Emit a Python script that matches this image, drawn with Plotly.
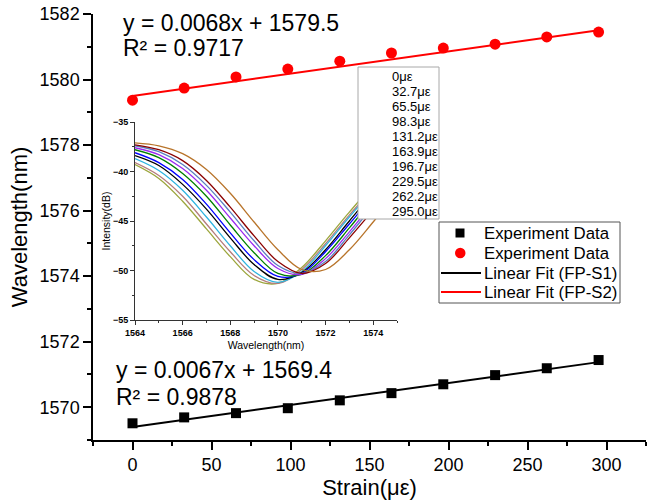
import plotly.graph_objects as go

# ---------------- data ----------------
strain = [0, 32.7, 65.5, 98.3, 131.2, 163.9, 196.7, 229.5, 262.2, 295.0]
s1_wavelength = [1569.51, 1569.69, 1569.82, 1569.97, 1570.21, 1570.43, 1570.70, 1570.98, 1571.19, 1571.44]
s2_wavelength = [1579.37, 1579.74, 1580.08, 1580.32, 1580.56, 1580.81, 1580.96, 1581.08, 1581.30, 1581.45]

fit_slopes = [0.0067, 0.0068]
fit_intercepts = [1569.4, 1579.5]
fit_eq_labels = ["y = 0.0067x + 1569.4", "y = 0.0068x + 1579.5"]
fit_r2_labels = ["R\u00b2 = 0.9878", "R\u00b2 = 0.9717"]
legend_names = ["Experiment Data", "Experiment Data", "Linear Fit (FP-S1)", "Linear Fit (FP-S2)"]

spec_wl = [1564, 1565, 1566, 1567, 1568, 1569, 1570, 1571, 1572, 1573, 1574, 1575]
spec_labels = ["0\u03bc\u03b5", "32.7\u03bc\u03b5", "65.5\u03bc\u03b5", "98.3\u03bc\u03b5", "131.2\u03bc\u03b5",
               "163.9\u03bc\u03b5", "196.7\u03bc\u03b5", "229.5\u03bc\u03b5", "262.2\u03bc\u03b5", "295.0\u03bc\u03b5"]
spec_colors = ["#9CA63C", "#B47C7C", "#2FB4E0", "#000000", "#0000FF",
               "#008000", "#9A2BF0", "#5A7FC0", "#8B0000", "#B8742A"]
spec_db = [
    [-39.3, -40.7, -43.0, -45.8, -48.6, -50.9, -51.3, -49.7, -47.0, -44.1, -41.5, -39.8],
    [-39.1, -40.4, -42.5, -45.3, -48.1, -50.5, -51.3, -49.9, -47.3, -44.4, -41.8, -39.9],
    [-38.7, -39.9, -41.9, -44.6, -47.5, -50.1, -51.2, -50.1, -47.5, -44.6, -41.9, -39.9],
    [-38.4, -39.4, -41.3, -43.8, -46.7, -49.4, -50.9, -50.2, -47.9, -45.0, -42.2, -40.1],
    [-38.1, -39.1, -40.8, -43.3, -46.2, -48.9, -50.6, -50.3, -48.1, -45.3, -42.5, -40.2],
    [-37.8, -38.6, -40.2, -42.5, -45.4, -48.2, -50.3, -50.4, -48.5, -45.7, -42.8, -40.4],
    [-37.6, -38.3, -39.7, -41.9, -44.7, -47.5, -49.8, -50.4, -48.8, -46.1, -43.2, -40.7],
    [-37.4, -38.0, -39.3, -41.4, -44.1, -47.0, -49.5, -50.3, -49.1, -46.4, -43.5, -40.9],
    [-37.3, -37.8, -38.9, -40.9, -43.6, -46.5, -49.1, -50.3, -49.3, -46.7, -43.9, -41.1],
    [-37.1, -37.4, -38.2, -39.8, -42.2, -45.1, -47.9, -49.9, -49.9, -47.9, -45.1, -42.2],
]

# ---------------- layout geometry ----------------
W, H = 648, 504
ML, MR, MT, MB = 93, 2, 14, 64
PW, PH = W - ML - MR, H - MT - MB


def px_x(px):
    return (px - ML) / PW


def px_y(py):
    return (H - MB - py) / PH


FONT = "Arial, Liberation Sans, sans-serif"

fig = go.Figure()

# main data
fig.add_trace(go.Scatter(x=strain, y=s1_wavelength, mode="markers", name=legend_names[0], showlegend=False,
                         marker=dict(symbol="square", size=10, color="black")))
fig.add_trace(go.Scatter(x=strain, y=s2_wavelength, mode="markers", name=legend_names[1], showlegend=False,
                         marker=dict(symbol="circle", size=11, color="#FF0000")))
for i, col in enumerate(["black", "#FF0000"]):
    xs = [strain[0], strain[-1]]
    ys = [fit_intercepts[i] + fit_slopes[i] * v for v in xs]
    fig.add_trace(go.Scatter(x=xs, y=ys, mode="lines", name=legend_names[2 + i], showlegend=False,
                             line=dict(color=col, width=2)))

# inset spectra
for lab, col, vals in zip(spec_labels, spec_colors, spec_db):
    fig.add_trace(go.Scatter(x=spec_wl, y=vals, mode="lines", name=lab, showlegend=False,
                             line=dict(color=col, width=1.3, shape="spline"),
                             xaxis="x2", yaxis="y2"))

annotations = []
shapes = []


def txt(text, x, y, size):
    annotations.append(dict(text=text, x=px_x(x), y=px_y(y), xref="paper", yref="paper",
                            xanchor="left", yanchor="middle", showarrow=False,
                            font=dict(size=size, color="black")))


# equations
txt(fit_eq_labels[1], 121, 23, 23)
txt(fit_r2_labels[1], 121, 48, 23)
txt(fit_eq_labels[0], 114, 370, 23)
txt(fit_r2_labels[0], 114, 397, 23)

# inset legend (box + labels)
shapes.append(dict(type="rect", xref="paper", yref="paper", x0=px_x(358), x1=px_x(439),
                   y0=px_y(219), y1=px_y(67), fillcolor="white", line=dict(color="#A8A8A8", width=1),
                   layer="above"))
for i, lab in enumerate(spec_labels):
    txt(lab, 390, 76 + 15.1 * i, 13)

# main legend (box, symbols, labels)
shapes.append(dict(type="rect", xref="paper", yref="paper", x0=px_x(439), x1=px_x(620),
                   y0=px_y(303), y1=px_y(222), fillcolor="white", line=dict(color="#555555", width=1),
                   layer="above"))
rows = [233, 253, 273, 292]
shapes.append(dict(type="rect", xref="paper", yref="paper", x0=px_x(455.5), x1=px_x(464.5),
                   y0=px_y(rows[0] + 4.5), y1=px_y(rows[0] - 4.5), fillcolor="black",
                   line=dict(width=0), layer="above"))
shapes.append(dict(type="circle", xref="paper", yref="paper", x0=px_x(455), x1=px_x(465.5),
                   y0=px_y(rows[1] + 5.25), y1=px_y(rows[1] - 5.25), fillcolor="#FF0000",
                   line=dict(width=0), layer="above"))
for r, col in zip(rows[2:], ["black", "#FF0000"]):
    shapes.append(dict(type="line", xref="paper", yref="paper", x0=px_x(441), x1=px_x(481),
                       y0=px_y(r), y1=px_y(r), line=dict(color=col, width=2), layer="above"))
for r, name in zip(rows, legend_names):
    txt(name, 482, r, 16.8)

fig.update_layout(
    width=W, height=H,
    margin=dict(l=ML, r=MR, t=MT, b=MB),
    paper_bgcolor="white", plot_bgcolor="white",
    font=dict(family=FONT, color="black"),
    showlegend=False,
    xaxis=dict(range=[-25, 325], tick0=0, dtick=50, showline=True, linecolor="black", linewidth=1.5,
               ticks="outside", ticklen=8, tickwidth=1.5, tickcolor="black",
               minor=dict(ticks="outside", ticklen=4, dtick=25, tickcolor="black", tickwidth=1.5),
               showgrid=False, zeroline=False, tickfont=dict(size=18),
               title=dict(text="Strain(\u03bc\u03b5)", font=dict(size=22), standoff=4)),
    yaxis=dict(range=[1569, 1582], tick0=1570, dtick=2, showline=True, linecolor="black", linewidth=1.5,
               ticks="outside", ticklen=8, tickwidth=1.5, tickcolor="black",
               minor=dict(ticks="outside", ticklen=4, dtick=1, tickcolor="black", tickwidth=1.5),
               showgrid=False, zeroline=False, tickfont=dict(size=18),
               title=dict(text="Wavelength(nm)", font=dict(size=22), standoff=6)),
    xaxis2=dict(domain=[px_x(135), px_x(397)], anchor="y2", range=[1564, 1575], tick0=1564, dtick=2,
                showline=True, linecolor="#333333", linewidth=1, ticks="outside", ticklen=4,
                tickcolor="#333333", minor=dict(ticks="outside", ticklen=2, dtick=1, tickcolor="#333333"),
                showgrid=False, zeroline=False, tickfont=dict(size=9, weight="bold"),
                title=dict(text="Wavelength(nm)", font=dict(size=10.5), standoff=4)),
    yaxis2=dict(domain=[px_y(320), px_y(122)], anchor="x2", range=[-55, -35], tick0=-55, dtick=5,
                showline=True, linecolor="#333333", linewidth=1, ticks="outside", ticklen=4,
                tickcolor="#333333", minor=dict(ticks="outside", ticklen=2, dtick=2.5, tickcolor="#333333"),
                showgrid=False, zeroline=False, tickfont=dict(size=9, weight="bold"),
                title=dict(text="Intensity(dB)", font=dict(size=10.5), standoff=0)),
    annotations=annotations,
    shapes=shapes,
)

fig.write_html("out.html", config={"displayModeBar": False},
               post_script="document.body.style.margin='0px';document.body.style.overflow='hidden';")
